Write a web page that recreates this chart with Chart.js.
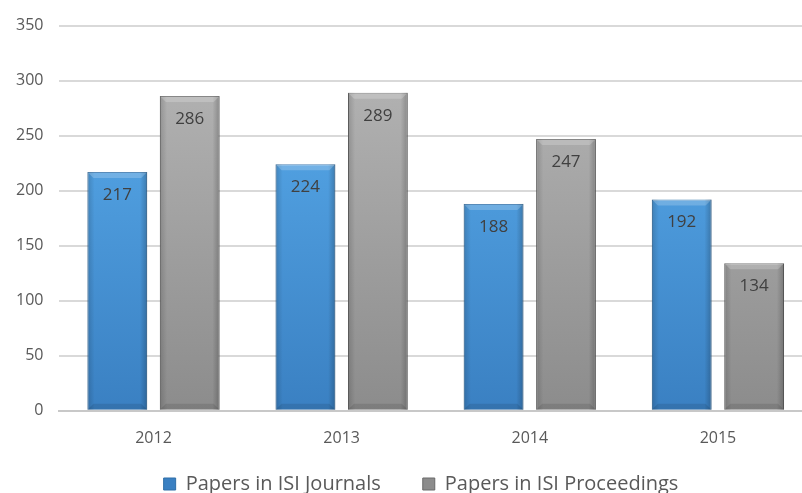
<!DOCTYPE html>
<html><head><meta charset="utf-8">
<script src="https://cdn.jsdelivr.net/npm/chart.js@4/dist/chart.umd.min.js"></script>
<style>html,body{margin:0;padding:0;background:#fff;overflow:hidden}#wrap{width:812px;height:493px}</style>
</head><body><div id="wrap"><canvas id="c"></canvas></div>
<script>
const categories = ['2012','2013','2014','2015'];
const journals = [217,224,188,192];
const proceedings = [286,289,247,134];
const seriesNames = ['Papers in ISI Journals','Papers in ISI Proceedings'];
const yTicks = [0,50,100,150,200,250,300,350];

function grad(ctx, top, bottom){
  const ch = ctx.chart; const a = ch.chartArea;
  if(!a) return top;
  const g = ch.ctx.createLinearGradient(0,a.top,0,a.bottom);
  g.addColorStop(0,top); g.addColorStop(1,bottom); return g;
}
const shadePlugin = {
  id:'shade',
  afterDatasetsDraw(chart){
    const c = chart.ctx;
    c.save();
    chart.data.datasets.forEach((ds,i)=>{
      chart.getDatasetMeta(i).data.forEach((bar)=>{
        const l = bar.x - bar.width/2, r = bar.x + bar.width/2, t = bar.y, b = bar.base;
        const g = c.createLinearGradient(l,0,r,0);
        g.addColorStop(0,'rgba(0,0,0,0.16)');
        g.addColorStop(0.12,'rgba(0,0,0,0.0)');
        g.addColorStop(0.88,'rgba(0,0,0,0.0)');
        g.addColorStop(1,'rgba(0,0,0,0.22)');
        c.fillStyle = g; c.fillRect(l,t,r-l,b-t);
        const bv = 6;
        c.fillStyle='rgba(255,255,255,0.2)';
        c.beginPath(); c.moveTo(l,t); c.lineTo(r,t); c.lineTo(r-bv,t+bv); c.lineTo(l+bv,t+bv); c.closePath(); c.fill();
        c.fillStyle='rgba(0,0,0,0.1)';
        c.beginPath(); c.moveTo(l,b); c.lineTo(r,b); c.lineTo(r-bv,b-bv); c.lineTo(l+bv,b-bv); c.closePath(); c.fill();
      });
    });
    c.restore();
  }
};
const labelPlugin = {
  id:'lbl',
  afterDatasetsDraw(chart){
    const c = chart.ctx;
    c.save();
    c.font = '17px "Open Sans", sans-serif';
    c.fillStyle = '#404040'; c.textAlign='center'; c.textBaseline='middle';
    chart.data.datasets.forEach((ds,i)=>{
      chart.getDatasetMeta(i).data.forEach((bar,j)=>{
        c.fillText(String(ds.data[j]), bar.x, bar.y+23);
      });
    });
    c.restore();
  }
};
const legendShift = {
  id:'legendShift',
  afterLayout(chart){ if(chart.legend){ chart.legend.left += 30; } }
};
new Chart(document.getElementById('c'),{
  type:'bar',
  data:{labels:categories,datasets:[
    {label:seriesNames[0],data:journals,
     backgroundColor:ctx=>grad(ctx,'#5cb0f0','#3a80c2'),
     borderColor:'#2f6fa8',borderWidth:1,
     barPercentage:0.825,categoryPercentage:0.77},
    {label:seriesNames[1],data:proceedings,
     backgroundColor:ctx=>grad(ctx,'#b8b8b8','#8c8c8c'),
     borderColor:'#6a6a6a',borderWidth:1,
     barPercentage:0.825,categoryPercentage:0.77}
  ]},
  options:{
    responsive:true,maintainAspectRatio:false,animation:false,
    layout:{padding:{left:0,right:0,top:14,bottom:-11}},
    plugins:{
      legend:{position:'bottom',labels:{boxWidth:12,boxHeight:12,padding:16,color:'#595959',font:{size:20,family:'"Open Sans", sans-serif'},
        generateLabels(chart){
          const items = Chart.defaults.plugins.legend.labels.generateLabels(chart);
          items.forEach((it,i)=>{ if(i===0) it.text = it.text + '     '; });
          return items;
        }}},
      tooltip:{enabled:false}
    },
    scales:{
      x:{grid:{display:false},border:{color:'#c8c8c8',width:2},ticks:{color:'#595959',font:{size:16,family:'"Open Sans", sans-serif'},padding:10}},
      y:{min:0,max:350,afterBuildTicks(ax){ax.ticks=yTicks.map(v=>({value:v}));},
         grid:{color:'#d9d9d9',lineWidth:2,drawTicks:false},border:{display:false},
         ticks:{color:'#595959',font:{size:16,family:'"Open Sans", sans-serif'},padding:16}}
    }
  },
  plugins:[shadePlugin,labelPlugin,legendShift]
});
</script></body></html>
